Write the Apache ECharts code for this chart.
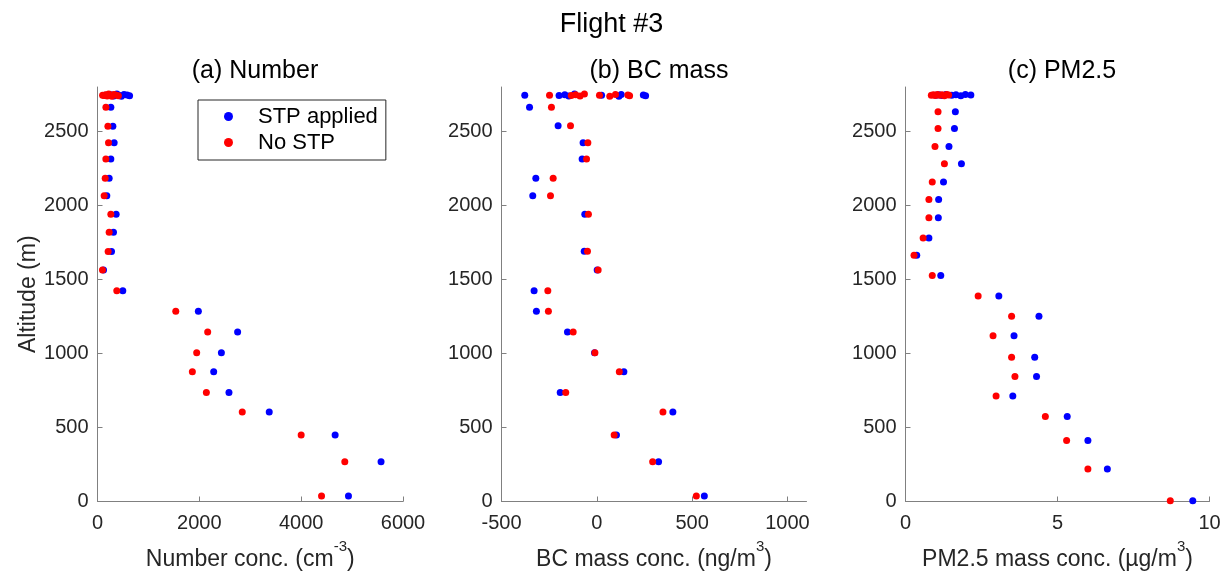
<!DOCTYPE html>
<html>
<head>
<meta charset="utf-8">
<title>Flight #3</title>
<script src="https://cdn.jsdelivr.net/npm/echarts@6/dist/echarts.min.js"></script>
<style>
  html, body { margin: 0; padding: 0; background: #fff; }
  #chart { width: 1223px; height: 575px; }
</style>
</head>
<body>
<div id="chart"></div>
<script>
// altitude (m) and concentrations
const altNum = [2745, 2742, 2748, 2740, 2752, 2744, 2738, 2750, 2746, 2741,
  2664, 2535, 2423, 2314, 2183, 2065, 1941, 1819, 1688, 1563, 1423,
  1285, 1145, 1005, 876, 737, 604, 450, 269, 37]
const numStp = [150, 200, 260, 320, 380, 420, 470, 520, 580, 630,
  262, 302, 327, 262, 229, 183, 366, 314, 275, 118, 497,
  1981, 2752, 2433, 2282, 2582, 3373, 4667, 5569, 4929]
const numNoStp = [100, 130, 160, 190, 220, 250, 280, 320, 360, 410,
  165, 204, 216, 164, 151, 131, 262, 229, 209, 98, 379,
  1537, 2164, 1948, 1863, 2138, 2843, 4000, 4857, 4400]

const altBc = [2745, 2742, 2748, 2740, 2752, 2744, 2738, 2750, 2746, 2741,
  2664, 2538, 2423, 2314, 2183, 2065, 1941, 1690, 1563, 1423,
  1285, 1145, 1005, 876, 737, 604, 450, 269, 37]
const bcStp = [-378, -198, -168, -147, -117, 25, 116, 128, 244, 256,
  -353, -203, -72, -77, -320, -336, -63, -66, 2, -329,
  -317, -154, -12, 142, -192, 399, 103, 324, 564]
const bcNoStp = [-248, -134, -111, -88, -65, 14, 68, 98, 163, 172,
  -238, -138, -47, -54, -229, -243, -44, -49, 7, -257,
  -254, -124, -10, 118, -163, 347, 91, 293, 522]

const altPm = [2745, 2748, 2742, 2750, 2744, 2747, 2741, 2749, 2746,
  2633, 2520, 2398, 2282, 2158, 2040, 1916, 1780, 1663, 1527,
  1389, 1251, 1120, 975, 844, 713, 575, 412, 220, 5]
const pmStp = [1.0, 1.1, 1.2, 1.33, 1.52, 1.66, 1.82, 1.97, 2.15,
  1.64, 1.61, 1.43, 1.84, 1.25, 1.09, 1.08, 0.77, 0.37, 1.16,
  3.07, 4.39, 3.57, 4.25, 4.31, 3.53, 5.32, 6.0, 6.64, 9.45]
const pmNoStp = [0.85, 0.92, 0.98, 1.05, 1.12, 1.2, 1.28, 1.35, 1.42,
  1.07, 1.07, 0.97, 1.28, 0.88, 0.77, 0.77, 0.58, 0.28, 0.88,
  2.39, 3.49, 2.88, 3.49, 3.6, 2.98, 4.6, 5.3, 6.0, 8.71]

const altTicks = [0, 500, 1000, 1500, 2000, 2500]

const font = 'Helvetica, "Liberation Sans", Arial, sans-serif'
const textColor = '#262626'
const lineColor = '#808080'

function pairs(xs, ys) {
  return xs.map((x, i) => [x, ys[i]])
}

// plain numbers, no thousands separator
function plain(v) {
  return String(v)
}

function nameRich() {
  return {
    t: { fontSize: 23, fontFamily: font, color: textColor, verticalAlign: 'bottom', lineHeight: 32 },
    s: { fontSize: 15, fontFamily: font, color: textColor, verticalAlign: 'top', lineHeight: 14 }
  }
}

function xAxisOf(idx, min, max, interval, ticks, name) {
  return {
    type: 'value',
    gridIndex: idx,
    min: min,
    max: max,
    interval: interval,
    name: name,
    nameLocation: 'middle',
    nameGap: 38,
    nameTextStyle: { rich: nameRich() },
    axisLine: { show: true, onZero: false, lineStyle: { color: lineColor, width: 1 } },
    axisTick: { show: true, inside: true, length: 5, customValues: ticks, lineStyle: { color: lineColor } },
    axisLabel: { color: textColor, fontSize: 20, fontFamily: font, margin: 12, customValues: ticks, formatter: plain },
    splitLine: { show: false }
  }
}

function yAxisOf(idx, showName) {
  return {
    type: 'value',
    gridIndex: idx,
    min: 0,
    max: 2800,
    interval: 500,
    name: showName ? 'Altitude (m)' : '',
    nameLocation: 'middle',
    nameGap: 55,
    nameTextStyle: { fontSize: 23, fontFamily: font, color: textColor },
    axisLine: { show: true, onZero: false, lineStyle: { color: lineColor, width: 1 } },
    axisTick: { show: true, inside: true, length: 5, customValues: altTicks, lineStyle: { color: lineColor } },
    axisLabel: { color: textColor, fontSize: 20, fontFamily: font, margin: 9, customValues: altTicks, formatter: plain },
    splitLine: { show: false }
  }
}

function dots(name, color, idx, data) {
  return {
    name: name,
    type: 'scatter',
    xAxisIndex: idx,
    yAxisIndex: idx,
    data: data,
    symbol: 'circle',
    symbolSize: 7,
    itemStyle: { color: color, opacity: 1 },
    emphasis: { disabled: true },
    animation: false
  }
}

function panelTitle(text, x) {
  return {
    text: text,
    left: x,
    top: 54,
    textAlign: 'center',
    textStyle: { fontSize: 25, fontWeight: 'normal', fontFamily: font, color: '#000' }
  }
}

const chart = echarts.init(document.getElementById('chart'), null, { renderer: 'canvas' })

chart.setOption({
  backgroundColor: '#fff',
  animation: false,
  title: [
    {
      text: 'Flight #3',
      left: 'center',
      top: 6,
      textStyle: { fontSize: 27, fontWeight: 'normal', fontFamily: font, color: '#000' }
    },
    panelTitle('(a) Number', 250),
    panelTitle('(b) BC mass', 654),
    panelTitle('(c) PM2.5', 1057)
  ],
  legend: {
    data: ['STP applied', 'No STP'],
    orient: 'vertical',
    left: 198,
    top: 100,
    padding: [5, 8, 6, 26],
    itemGap: 3,
    icon: 'circle',
    itemWidth: 9,
    itemHeight: 9,
    borderColor: '#262626',
    borderWidth: 1,
    backgroundColor: '#fff',
    textStyle: { fontSize: 22, fontFamily: font, color: '#000', padding: [0, 0, 0, 20], lineHeight: 23 }
  },
  grid: [
    { left: 97.5, top: 87, width: 305.5, height: 414.5, containLabel: false, outerBoundsMode: 'none' },
    { left: 501.5, top: 87, width: 305, height: 414.5, containLabel: false, outerBoundsMode: 'none' },
    { left: 905.5, top: 87, width: 304, height: 414.5, containLabel: false, outerBoundsMode: 'none' }
  ],
  xAxis: [
    xAxisOf(0, 0, 6000, 2000, [0, 2000, 4000, 6000], '{t|Number conc. (cm}{s|-3}{t|)}'),
    xAxisOf(1, -500, 1100, 500, [-500, 0, 500, 1000], '{t|BC mass conc. (ng/m}{s|3}{t|)}'),
    xAxisOf(2, 0, 10, 5, [0, 5, 10], '{t|PM2.5 mass conc. (µg/m}{s|3}{t|)}')
  ],
  yAxis: [yAxisOf(0, true), yAxisOf(1, false), yAxisOf(2, false)],
  series: [
    dots('STP applied', '#0000ff', 0, pairs(numStp, altNum)),
    dots('No STP', '#ff0000', 0, pairs(numNoStp, altNum)),
    dots('STP applied', '#0000ff', 1, pairs(bcStp, altBc)),
    dots('No STP', '#ff0000', 1, pairs(bcNoStp, altBc)),
    dots('STP applied', '#0000ff', 2, pairs(pmStp, altPm)),
    dots('No STP', '#ff0000', 2, pairs(pmNoStp, altPm))
  ]
})
</script>
</body>
</html>
